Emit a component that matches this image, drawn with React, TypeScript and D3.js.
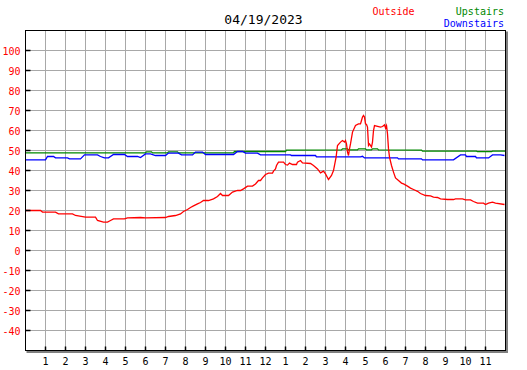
import React from "react";
import * as d3 from "d3";

const title = "04/19/2023";
const hourLabels = ["1","2","3","4","5","6","7","8","9","10","11","12","1","2","3","4","5","6","7","8","9","10","11"];
const yTicks = [-40,-30,-20,-10,0,10,20,30,40,50,60,70,80,90,100];

// Outside (red): [hour, °F]
const outside: [number, number][] = [
  [0,20],[0.75,20],[0.85,19.2],[1.5,19.2],[1.65,18.3],[2.35,18.3],[2.5,17.5],[3.0,16.7],[3.5,16.7],
  [3.6,15],[3.9,14.2],[4.1,14.2],[4.25,15],[4.4,15.8],[4.95,15.8],[5.1,16.3],[5.75,16.5],[6.0,16.3],
  [7.0,16.5],[7.15,17],[7.5,17.5],[7.75,18.3],[7.9,19.5],[8.1,20.5],[8.25,21.5],[8.4,22.3],[8.6,23.3],
  [8.75,24],[8.9,25],[9.15,25],[9.4,25.8],[9.6,27],[9.75,28.5],[9.85,27.5],[10.15,27.5],[10.35,29.2],
  [10.6,30],[10.75,30],[10.9,30.8],[11.1,32.2],[11.35,32.2],[11.5,33.3],[11.65,35],[11.75,35],[11.85,36.3],
  [12.0,38],[12.15,38.7],[12.35,38.7],[12.4,39.7],[12.5,40.8],[12.55,42.5],[12.65,44.2],[12.9,44.2],
  [13.0,43],[13.1,42.7],[13.2,43.7],[13.35,43],[13.55,43],[13.6,44.2],[13.75,45],[13.85,43.8],[14.25,43.5],
  [14.4,42.5],[14.6,40.8],[14.75,38.8],[14.9,39.7],[15.0,38.3],[15.15,35.5],[15.3,37.5],[15.4,40],
  [15.53,46.7],[15.6,52.5],[15.75,54.2],[15.85,55],[15.95,54.2],[16.0,55],[16.05,53.3],[16.1,49.2],
  [16.15,47.5],[16.2,50.8],[16.25,53.3],[16.35,59.2],[16.5,62.5],[16.65,63.3],[16.75,63.3],[16.8,65],
  [16.85,66.7],[16.9,67.5],[16.95,66.7],[17.0,63.3],[17.05,63],[17.1,61.7],[17.15,52.5],[17.2,53.3],
  [17.3,51.7],[17.35,54.2],[17.4,60],[17.45,62.5],[17.75,61.7],[17.85,62],[17.95,62.8],[18.0,61.3],
  [18.05,62.5],[18.1,58.3],[18.15,50.8],[18.2,46.7],[18.3,42.5],[18.4,39.2],[18.5,36.3],[18.65,35],
  [18.8,33.7],[18.9,33.3],[19.1,32.2],[19.25,31.2],[19.4,30.5],[19.6,29.6],[19.75,28.5],[20.0,27.5],
  [20.25,27.3],[20.4,26.7],[20.6,26.5],[20.75,25.8],[21.1,25.5],[21.4,25.5],[21.5,25.8],[21.85,25.8],
  [22.0,25.3],[22.25,25.3],[22.4,24.5],[22.6,23.7],[22.9,23.7],[23.0,23],[23.15,23.7],[23.35,24.2],
  [23.5,23.7],[23.95,23]
];

// Upstairs (green)
const upstairs: [number, number][] = [
  [0,48.8],[6.0,48.8],[6.05,49.3],[6.3,49.3],[6.35,48.8],[7.1,48.8],[7.15,49.3],[7.6,49.3],[7.65,48.8],
  [10.4,48.8],[10.45,49.5],[13.0,49.5],[13.05,50.2],[15.8,50.3],[15.85,50.8],[16.1,50.8],[16.15,50.3],
  [16.6,50.3],[16.65,50.8],[17.0,50.8],[17.05,50.3],[17.3,50.3],[17.35,50.8],[17.6,50.8],[17.65,50.3],
  [19.8,50.2],[19.85,49.7],[22.55,49.7],[22.6,49.4],[23.3,49.4],[23.35,49.7],[24,49.7]
];

// Downstairs (blue)
const downstairs: [number, number][] = [
  [0,45.3],[1.0,45.3],[1.1,47],[1.4,47],[1.5,46.3],[2.1,46.3],[2.2,45.8],[2.75,45.8],[2.95,47.8],[3.6,47.8],
  [3.75,47],[3.95,46.3],[4.15,46.3],[4.4,48],[4.95,48],[5.1,47],[5.6,47],[5.75,46.5],[6.0,48.3],[6.25,48.3],
  [6.5,47.5],[7.0,47.5],[7.15,48.7],[7.65,48.7],[7.8,47.8],[8.35,47.8],[8.5,49.2],[8.85,49.2],[9.0,48],
  [10.4,48],[10.6,49.5],[10.85,49.5],[11.0,48.7],[11.6,48.7],[11.75,47.8],[13.25,47.8],[13.3,47.5],
  [14.5,47.5],[14.55,46.8],[16.75,46.8],[16.85,47.1],[16.95,46.3],[18.6,46.3],[18.65,45.8],[19.8,45.8],
  [19.85,45.3],[21.4,45.3],[21.75,47.8],[22.0,47.8],[22.05,47],[22.5,47],[22.55,46.3],[23.15,46.3],
  [23.35,47.8],[23.75,47.8],[23.95,47.5]
];

const W = 527, H = 370;
const L = 25.5, R = 505.5, T = 30.5, B = 350.5;

export default function App() {
  const x = d3.scaleLinear().domain([0, 24]).range([L, R]);
  const y = d3.scaleLinear().domain([-50, 110]).range([B, T]);
  const line = d3.line<[number, number]>().x(d => x(d[0])).y(d => y(d[1]));
  const font = "'DejaVu Sans Mono', monospace";
  const hours = d3.range(1, 24);
  return (
    <svg width={W} height={H} style={{ position: "absolute", left: 0, top: 0, background: "#fff" }}>
      <rect x={0} y={0} width={W} height={H} fill="#fff" />
      {/* shadow */}
      <rect x={R + 0.5} y={T + 1} width={2} height={B - T + 1} fill="#808080" />
      <rect x={L + 1} y={B + 0.5} width={R - L + 1.5} height={2} fill="#808080" />
      <rect x={L} y={T} width={R - L} height={B - T} fill="#fff" />
      {/* grid */}
      <g stroke="#a8a8a8" strokeWidth={1} shapeRendering="crispEdges">
        {hours.map(h => <line key={"v" + h} x1={x(h)} x2={x(h)} y1={T} y2={B} />)}
        {yTicks.map(v => <line key={"h" + v} x1={L} x2={R} y1={y(v)} y2={y(v)} />)}
      </g>
      {/* series */}
      <path d={line(upstairs) || ""} fill="none" stroke="#008800" strokeWidth={1.3} />
      <path d={line(downstairs) || ""} fill="none" stroke="#0000ff" strokeWidth={1.3} />
      <path d={line(outside) || ""} fill="none" stroke="#ff0000" strokeWidth={1.3} />
      {/* frame */}
      <rect x={L} y={T} width={R - L} height={B - T} fill="none" stroke="#000" strokeWidth={1} shapeRendering="crispEdges" />
      <line x1={L} x2={R} y1={B - 0.5} y2={B - 0.5} stroke="#000" strokeWidth={1} shapeRendering="crispEdges" />
      {/* ticks */}
      <g stroke="#000" strokeWidth={1.5}>
        {hours.map(h => <line key={"tx" + h} x1={x(h)} x2={x(h)} y1={B - 4} y2={B} />)}
        {yTicks.map(v => <line key={"ty" + v} x1={L} x2={L + 5} y1={y(v)} y2={y(v)} />)}
      </g>
      <g fontFamily={font} fontSize={10}>
        {yTicks.map(v => (
          <text key={"yl" + v} x={20.5} y={y(v) + 4} textAnchor="end" fill="#ff0000">{v}</text>
        ))}
        {hours.map((h, i) => (
          <text key={"xl" + h} x={x(h)} y={364.5} textAnchor="middle" fill="#000">{hourLabels[i]}</text>
        ))}
        <text x={372.5} y={14.5} fill="#ff0000">Outside</text>
        <text x={504} y={14.5} textAnchor="end" fill="#008800">Upstairs</text>
        <text x={504} y={27} textAnchor="end" fill="#0000ff">Downstairs</text>
      </g>
      <text x={263.5} y={24.3} textAnchor="middle" fontFamily={font} fontSize={13} fill="#000">{title}</text>
    </svg>
  );
}
